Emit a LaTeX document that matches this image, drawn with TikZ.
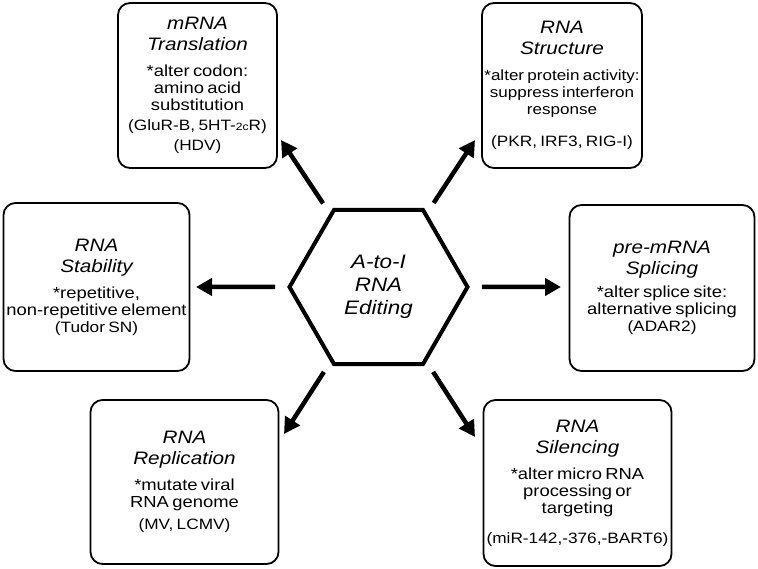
\documentclass[tikz,border=0pt]{standalone}
\usepackage{fontspec}
\setmainfont{Liberation Sans}[FakeStretch=1.15]
\usetikzlibrary{shapes.geometric,arrows.meta}

\newcommand{\roletitle}[1]{{\fontsize{18}{21}\selectfont\itshape #1\par}}
\newcommand{\rolebody}[2][16]{{\fontsize{#1}{17}\selectfont #2\par}}
\newcommand{\rolerefs}[1]{{\fontsize{15}{20}\selectfont #1\par}}

\tikzset{
  rolebox/.style={draw, line width=1.8pt, rounded corners=12pt, inner sep=0pt, align=center},
  hub/.style={draw, line width=4pt, shape=regular polygon, regular polygon sides=6, minimum size=178pt, inner sep=0pt, align=center, font=\fontsize{19.5}{23}\selectfont\itshape},
  arr/.style={line width=4.5pt, -{Triangle[length=16pt,width=17pt]}, shorten <=12pt}
}

\begin{document}
\begin{tikzpicture}[x=1pt,y=-1pt]
    \useasboundingbox (0,0) rectangle (758,569);

    \node[hub] (edit) at (378.5,287) {A-to-I\\RNA\\Editing};

    \node[rolebox, text width=159pt, minimum height=165pt] (trans) at (197.5,85.5) {\roletitle{mRNA\\Translation}\vspace{9pt}\rolebody{*alter codon:\\amino acid\\substitution}\vspace{0pt}\rolerefs{(GluR-B, 5HT-{\fontsize{10.5}{10}\selectfont 2c}R)\\(HDV)}};
    \node[rolebox, text width=160pt, minimum height=165pt] (struct) at (562,85.5) {\roletitle{RNA\\Structure}\vspace{9pt}\rolebody[14.8]{*alter protein activity:\\suppress interferon\\response}\vspace{12pt}\rolerefs{(PKR, IRF3, RIG-I)}};
    \node[rolebox, text width=186pt, minimum height=168pt] (stab) at (96.5,287) {\roletitle{RNA\\Stability}\vspace{9pt}\rolebody{*repetitive,\\non-repetitive element}\vspace{-3pt}\rolerefs{(Tudor SN)}};
    \node[rolebox, text width=185pt, minimum height=166pt] (splice) at (662,288) {\roletitle{pre-mRNA\\Splicing}\vspace{6pt}\rolebody{*alter splice site:\\alternative splicing}\vspace{-3pt}\rolerefs{(ADAR2)}};
    \node[rolebox, text width=188pt, minimum height=164pt] (repl) at (184.5,482) {\roletitle{RNA\\Replication}\vspace{9pt}\rolebody{*mutate viral\\RNA genome}\vspace{2pt}\rolerefs{(MV, LCMV)}};
    \node[rolebox, text width=188pt, minimum height=166pt] (silen) at (577.5,483) {\roletitle{RNA\\Silencing}\vspace{9pt}\rolebody{*alter micro RNA\\processing or\\targeting}\vspace{10pt}\rolerefs{(miR-142,-376,-BART6)}};

    \coordinate (ttrans) at (281,140);
    \coordinate (tstruct) at (475,140);
    \coordinate (tstab) at (196,287);
    \coordinate (tsplice) at (561,287);
    \coordinate (trepl) at (284,434);
    \coordinate (tsilen) at (475,437);

    \draw[arr] (edit)--(ttrans);
    \draw[arr] (edit)--(tstruct);
    \draw[arr] (edit)--(tstab);
    \draw[arr] (edit)--(tsplice);
    \draw[arr] (edit)--(trepl);
    \draw[arr] (edit)--(tsilen);
\end{tikzpicture}
\end{document}
